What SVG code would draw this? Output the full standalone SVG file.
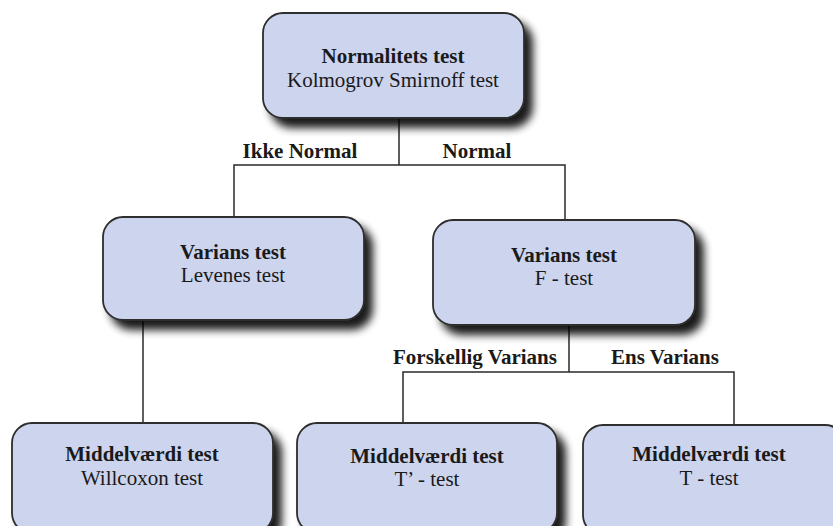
<svg xmlns="http://www.w3.org/2000/svg" width="833" height="526" viewBox="0 0 833 526">
<defs>
<filter id="sh" x="-20%" y="-20%" width="140%" height="150%">
<feGaussianBlur in="SourceAlpha" stdDeviation="4.5"/>
<feOffset dx="8" dy="9" result="b"/>
<feComponentTransfer><feFuncA type="linear" slope="0.9"/></feComponentTransfer>
<feMerge><feMergeNode/><feMergeNode in="SourceGraphic"/></feMerge>
</filter>
</defs>
<style>
.box{fill:#cdd4ee;stroke:#2e2e2e;stroke-width:1.8;filter:url(#sh)}
.t{font-family:"Liberation Serif","DejaVu Serif",serif;font-size:21px;fill:#1a1a1a;text-anchor:middle}
.b{font-weight:bold}
.c{fill:none;stroke:#2a2a2a;stroke-width:1.5}
</style>
<rect width="833" height="526" fill="#ffffff"/>
<g id="connectors">
<path class="c" d="M399 118V165M234 217V165H565V220"/>
<path class="c" d="M143 320V423"/>
<path class="c" d="M569 325V372M403 423V372H734V425"/>
<text class="t b" x="300" y="158">Ikke Normal</text>
<text class="t b" x="477" y="158">Normal</text>
<text class="t b" x="475" y="364">Forskellig Varians</text>
<text class="t b" x="665" y="364">Ens Varians</text>
</g>
<g id="n-normalitet">
<rect class="box" x="263" y="13" width="261" height="105" rx="20"/>
<text class="t b" x="393" y="63">Normalitets test</text>
<text class="t" x="393" y="87">Kolmogrov Smirnoff test</text>
</g>
<g id="n-varians-levene">
<rect class="box" x="103" y="217" width="261" height="103" rx="20"/>
<text class="t b" x="233" y="259">Varians test</text>
<text class="t" x="233" y="282">Levenes test</text>
</g>
<g id="n-varians-f">
<rect class="box" x="433" y="220" width="262" height="105" rx="20"/>
<text class="t b" x="564" y="262">Varians test</text>
<text class="t" x="564" y="285">F - test</text>
</g>
<g id="n-willcoxon">
<rect class="box" x="12" y="423" width="261" height="110" rx="20"/>
<text class="t b" x="142" y="461">Middelværdi test</text>
<text class="t" x="142" y="485">Willcoxon test</text>
</g>
<g id="n-tprime">
<rect class="box" x="297" y="423" width="260" height="110" rx="20"/>
<text class="t b" x="427" y="463">Middelværdi test</text>
<text class="t" x="427" y="486">T’ - test</text>
</g>
<g id="n-t">
<rect class="box" x="583" y="425" width="262" height="110" rx="20"/>
<text class="t b" x="709" y="461">Middelværdi test</text>
<text class="t" x="709" y="485">T - test</text>
</g>
</svg>
